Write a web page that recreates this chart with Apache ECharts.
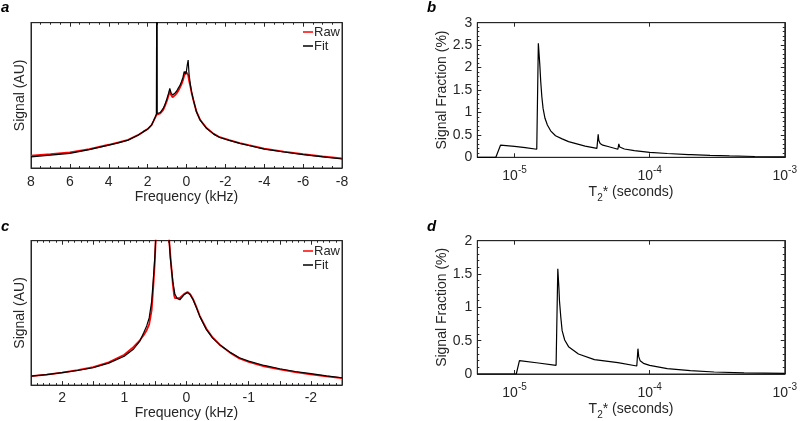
<!DOCTYPE html>
<html><head><meta charset="utf-8">
<script src="https://cdn.jsdelivr.net/npm/echarts@6/dist/echarts.min.js"></script>
<style>html,body{margin:0;padding:0;background:#fff}#c{width:800px;height:421px}</style>
</head><body><div id="c"></div>
<script>
// ---- Panel a: spectrum (frequency in kHz, signal in arbitrary units) ----
const aFreq = [8, 7, 6, 5, 4, 3.5, 3, 2.5, 2.2, 2, 1.8, 1.7, 1.6, 1.55, 1.525, 1.515, 1.505, 1.45, 1.35, 1.2, 1.1, 1.0, 0.92, 0.86, 0.8, 0.72, 0.6, 0.5, 0.43, 0.35, 0.26, 0.18, 0.12, 0.08, 0.035, 0, -0.04, -0.085, -0.11, -0.135, -0.2, -0.26, -0.35, -0.51, -0.7, -1.03, -1.4, -1.71, -2.2, -2.74, -3.2, -4, -5, -6, -7, -8];
const aFit  = [7.6, 8.8, 10.1, 12.6, 15.8, 17.3, 19.2, 22.5, 25.2, 26.7, 29.5, 32.3, 35.2, 37, 38, 200, 37.5, 37, 38.2, 41, 44, 48, 51.5, 54.8, 52, 50.2, 51.5, 53, 54.8, 56.5, 59.4, 62.5, 66.3, 66, 64.5, 67, 71, 74.3, 69, 64, 57.5, 52.5, 47, 38.7, 33, 27.3, 23.3, 21, 19, 17, 15.5, 13, 11, 9.2, 7.7, 6.2];
const aRaw  = [8.5, 9.6, 10.8, 13, 16, 17.6, 19.4, 22.6, 25.2, 26.8, 29.5, 32.2, 35, 36.6, 37.3, 37.2, 37, 36.5, 37.5, 40, 43, 46.5, 50, 52.9, 50.5, 48.7, 50, 51.5, 53, 55, 57.5, 60.5, 63.4, 65, 66.5, 67.4, 66, 64, 62, 60, 56, 52, 47, 38.9, 33.2, 27.5, 23.5, 21.2, 19.2, 17.2, 15.7, 13.3, 11.3, 9.5, 8, 6.6];

// ---- Panel c: spectrum ----
const cFreq = [2.5, 2.25, 2, 1.75, 1.5, 1.25, 1, 0.85, 0.75, 0.69, 0.64, 0.6, 0.56, 0.534, 0.51, 0.496, 0.45, 0.39, 0.32, 0.278, 0.26, 0.24, 0.22, 0.198, 0.187, 0.15, 0.107, 0.08, 0.04, -0.016, -0.06, -0.106, -0.16, -0.213, -0.32, -0.42, -0.533, -0.7, -0.85, -1, -1.25, -1.5, -1.75, -2, -2.25, -2.5];
const cFit  = [6.2, 7.3, 8.6, 10.1, 12, 15.2, 20, 25, 30.5, 36.1, 41, 46.5, 58, 72.9, 88, 100, 160, 200, 160, 100, 88, 79.8, 72, 66, 63, 60, 59.1, 60, 62.5, 64.1, 62.5, 59.1, 53.5, 47.6, 38.4, 32.5, 28, 22.8, 18.9, 16.6, 13.6, 11.3, 9.4, 7.9, 6.4, 5.1];
const cRaw  = [6.2, 7.3, 8.6, 10.3, 12.4, 15.8, 21, 26.5, 31, 34.5, 38, 42, 52, 68, 85, 100, 160, 200, 160, 100, 90, 80, 70, 62, 60.3, 60.3, 60.3, 61, 63, 64.5, 63, 59.5, 54, 48, 39, 33, 28, 22.5, 18.5, 16, 13, 10.9, 9, 7.5, 6.1, 4.8];

// ---- Panel b: T2* distribution (seconds, %) ----
const bT2   = [5.3e-6, 7.27e-6, 7.87e-6, 1.0e-5, 1.2e-5, 1.46e-5, 1.50e-5, 1.538e-5, 1.563e-5, 1.592e-5, 1.626e-5, 1.68e-5, 1.75e-5, 1.85e-5, 2.01e-5, 2.25e-5, 2.51e-5, 3.33e-5, 4.07e-5, 4.16e-5, 4.2e-5, 4.3e-5, 4.5e-5, 4.92e-5, 5.82e-5, 5.91e-5, 6.0e-5, 6.15e-5, 6.5e-5, 7.7e-5, 1.0e-4, 1.35e-4, 1.94e-4, 1.97e-4, 2.02e-4, 2.8e-4, 3.9e-4, 6.0e-4, 1.0e-3];
const bFrac = [0, 0, 0.27, 0.245, 0.215, 0.18, 2.54, 2.06, 1.68, 1.35, 1.09, 0.87, 0.72, 0.59, 0.48, 0.41, 0.35, 0.25, 0.2, 0.51, 0.38, 0.31, 0.27, 0.24, 0.18, 0.30, 0.23, 0.2, 0.185, 0.15, 0.11, 0.085, 0.058, 0.075, 0.058, 0.042, 0.03, 0.018, 0.01];

// ---- Panel d: T2* distribution ----
const dT2   = [5.3e-6, 1.03e-5, 1.087e-5, 1.5e-5, 2.03e-5, 2.09e-5, 2.13e-5, 2.15e-5, 2.2e-5, 2.25e-5, 2.35e-5, 2.51e-5, 2.97e-5, 3.9e-5, 4.0e-5, 5.82e-5, 8.03e-5, 8.19e-5, 8.3e-5, 8.5e-5, 9.0e-5, 1.0e-4, 1.35e-4, 2.0e-4, 3.0e-4, 5.0e-4, 1.0e-3];
const dFrac = [0, 0, 0.2, 0.165, 0.13, 1.58, 1.29, 1.10, 0.85, 0.65, 0.51, 0.41, 0.30, 0.215, 0.205, 0.17, 0.12, 0.38, 0.26, 0.2, 0.16, 0.13, 0.08, 0.05, 0.03, 0.018, 0.01];

// ---- tick labels ----
const freqTicksA = [8, 6, 4, 2, 0, -2, -4, -6, -8];
const freqTicksC = [2, 1, 0, -1, -2];
const logExponents = [-5, -4, -3];

const FONT = '"Liberation Sans", Arial, Helvetica, sans-serif';
const INK = '#262626';
const RED = '#ff0000';
const zip = (xs, ys) => xs.map((x, i) => [x, ys[i]]);

const tickStyle = { show: true, inside: true, length: 4, lineStyle: { color: INK } };
const minorStyle = (n) => ({ show: true, splitNumber: n, length: 2, lineStyle: { color: INK } });
const lineStyle = { show: true, onZero: false, lineStyle: { color: INK, width: 1 } };
const labelFont = { fontFamily: FONT, fontSize: 14, color: INK };

function powLabel(v) {
  const e = Math.log10(v), r = Math.round(e);
  if (Math.abs(e - r) > 1e-6 || logExponents.indexOf(r) < 0) return '';
  return '{b|10}{s|' + r + '}';
}
const powRich = {
  b: { fontFamily: FONT, fontSize: 14, color: INK, lineHeight: 18, verticalAlign: 'bottom' },
  s: { fontFamily: FONT, fontSize: 10, color: INK, lineHeight: 9, verticalAlign: 'top' }
};
const t2Name = '{n|T}{sub|2}{n|* (seconds)}';
const t2Rich = {
  n: { fontFamily: FONT, fontSize: 14, color: INK, lineHeight: 18, verticalAlign: 'top' },
  sub: { fontFamily: FONT, fontSize: 10, color: INK, lineHeight: 10, verticalAlign: 'bottom' }
};

function freqX(grid, min, max, interval, ticks, minorN, margin, gap) {
  return [{
    gridIndex: grid, type: 'value', min: min, max: max, interval: interval, inverse: true,
    position: 'bottom', axisLine: lineStyle, axisTick: tickStyle, minorTick: minorStyle(minorN),
    splitLine: { show: false },
    axisLabel: Object.assign({ margin: margin, formatter: v => (ticks.some(t => Math.abs(t - v) < 1e-9) ? String(Math.round(v)) : '') }, labelFont),
    name: 'Frequency (kHz)', nameLocation: 'middle', nameGap: gap,
    nameTextStyle: { fontFamily: FONT, fontSize: 14, color: INK }
  }, {
    gridIndex: grid, type: 'value', min: min, max: max, interval: interval, inverse: true,
    position: 'top', axisLine: lineStyle, axisTick: tickStyle, minorTick: minorStyle(minorN),
    splitLine: { show: false }, axisLabel: { show: false }
  }];
}
function logX(grid) {
  return [{
    gridIndex: grid, type: 'log', logBase: 10, min: 5.3e-6, max: 1e-3, splitNumber: 2,
    position: 'bottom', axisLine: lineStyle, axisTick: tickStyle, splitLine: { show: false },
    axisLabel: { margin: 8, formatter: powLabel, rich: powRich, showMinLabel: false },
    name: t2Name, nameLocation: 'middle', nameGap: 28,
    nameTextStyle: { rich: t2Rich }
  }, {
    gridIndex: grid, type: 'log', logBase: 10, min: 5.3e-6, max: 1e-3, splitNumber: 2,
    position: 'top', axisLine: lineStyle, axisTick: tickStyle, splitLine: { show: false },
    axisLabel: { show: false }
  }];
}
function signalY(grid) {
  return [{
    gridIndex: grid, type: 'value', min: 0, max: 100, position: 'left',
    axisLine: lineStyle, axisTick: { show: false }, axisLabel: { show: false }, splitLine: { show: false },
    name: 'Signal (AU)', nameLocation: 'middle', nameGap: 4,
    nameTextStyle: { fontFamily: FONT, fontSize: 14, color: INK }
  }, {
    gridIndex: grid, type: 'value', min: 0, max: 100, position: 'right',
    axisLine: lineStyle, axisTick: { show: false }, axisLabel: { show: false }, splitLine: { show: false }
  }];
}
function fracY(grid, max) {
  return [{
    gridIndex: grid, type: 'value', min: 0, max: max, interval: 0.5, position: 'left',
    axisLine: lineStyle, axisTick: tickStyle, minorTick: minorStyle(5), splitLine: { show: false },
    axisLabel: Object.assign({ margin: 5 }, labelFont),
    name: 'Signal Fraction (%)', nameLocation: 'middle', nameGap: 20,
    nameTextStyle: { fontFamily: FONT, fontSize: 14, color: INK }
  }, {
    gridIndex: grid, type: 'value', min: 0, max: max, interval: 0.5, position: 'right',
    axisLine: lineStyle, axisTick: tickStyle, minorTick: minorStyle(5), splitLine: { show: false },
    axisLabel: { show: false }
  }];
}

const xAxes = [].concat(
  freqX(0, -8, 8, 2, freqTicksA, 4, 7, 21),
  logX(1),
  freqX(2, -2.5, 2.5, 0.5, freqTicksC, 5, 6, 20),
  logX(3)
);
const yAxes = [].concat(signalY(0), fracY(1, 3), signalY(2), fracY(3, 2));

function line(name, data, xi, yi, color, width) {
  return { name: name, type: 'line', data: data, xAxisIndex: xi, yAxisIndex: yi,
    showSymbol: false, symbol: 'none', clip: true, animation: false,
    lineStyle: { color: color, width: width }, itemStyle: { color: color } };
}

const legendBase = {
  orient: 'vertical', icon: 'rect', itemWidth: 10, itemHeight: 1.5, itemGap: 0, padding: 0,
  data: ['Raw', 'Fit'], selectedMode: false,
  textStyle: { fontFamily: FONT, fontSize: 13, color: INK, lineHeight: 14, padding: [0, 0, 0, -4] }
};

const option = {
  backgroundColor: '#fff',
  animation: false,
  grid: [
    { left: 31, right: 458, top: 22.7, bottom: 253, show: true, borderColor: INK, borderWidth: 1 },
    { left: 477.3, right: 12.3, top: 22.7, bottom: 263.7, show: true, borderColor: INK, borderWidth: 1 },
    { left: 31, right: 458, top: 240.7, bottom: 35.3, show: true, borderColor: INK, borderWidth: 1 },
    { left: 477.3, right: 12.3, top: 240.7, bottom: 45.3, show: true, borderColor: INK, borderWidth: 1 }
  ],
  xAxis: xAxes,
  yAxis: yAxes,
  legend: [
    Object.assign({ left: 303, top: 25 }, legendBase),
    Object.assign({ left: 303, top: 244 }, legendBase)
  ],
  graphic: [
    { type: 'text', left: 1, top: 0, style: { text: 'a', font: 'italic bold 15px ' + FONT, fill: '#000' } },
    { type: 'text', left: 427, top: 0, style: { text: 'b', font: 'italic bold 15px ' + FONT, fill: '#000' } },
    { type: 'text', left: 1, top: 219, style: { text: 'c', font: 'italic bold 15px ' + FONT, fill: '#000' } },
    { type: 'text', left: 427, top: 219, style: { text: 'd', font: 'italic bold 15px ' + FONT, fill: '#000' } }
  ],
  series: [
    line('Raw', zip(aFreq, aRaw), 0, 0, RED, 1.8),
    line('Fit', zip(aFreq, aFit), 0, 0, '#000', 1.2),
    line('T2b', zip(bT2, bFrac), 2, 2, '#000', 1.2),
    line('Raw', zip(cFreq, cRaw), 4, 4, RED, 1.8),
    line('Fit', zip(cFreq, cFit), 4, 4, '#000', 1.2),
    line('T2d', zip(dT2, dFrac), 6, 6, '#000', 1.2)
  ]
};

const chart = echarts.init(document.getElementById('c'), null, { renderer: 'canvas' });
chart.setOption(option);
</script>
</body></html>
